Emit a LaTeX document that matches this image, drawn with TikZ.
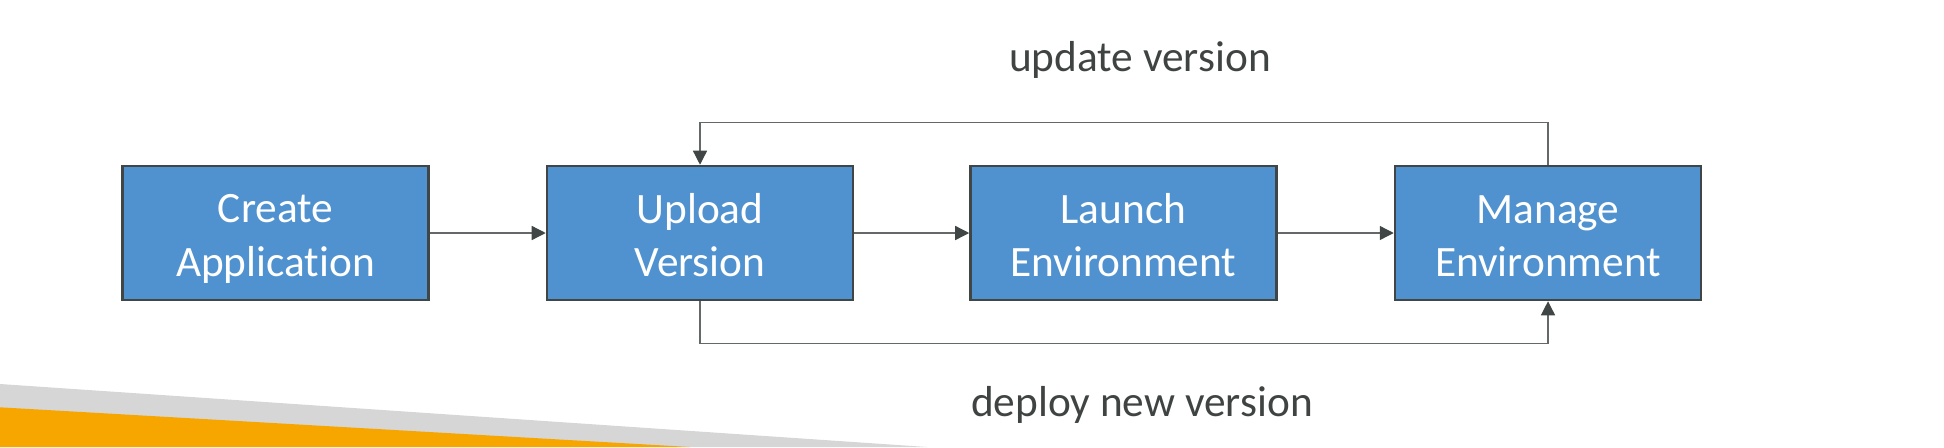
\documentclass[tikz,border=0pt]{standalone}
\usepackage{fontspec}
\setmainfont{Carlito}[Ligatures=NoCommon]
\usetikzlibrary{arrows.meta}
\definecolor{boxblue}{RGB}{80,146,207}
\definecolor{boxedge}{RGB}{64,70,69}
\definecolor{linegray}{RGB}{100,104,104}
\definecolor{labelgray}{RGB}{63,68,67}
\definecolor{bandgray}{RGB}{214,214,214}
\definecolor{bandorange}{RGB}{247,166,0}
\newcommand{\bstrut}{\rule[-5pt]{0pt}{35pt}}
\tikzset{
  stepbox/.style={draw=boxedge, line width=1.9pt, fill=boxblue, text=white,
    minimum width=229.5pt, minimum height=100.5pt, inner sep=0pt, align=center,
    font=\fontsize{32.5}{40}\selectfont},
  flow/.style={draw=linegray, line width=1pt,
    -{Triangle[length=10.5pt,width=10.5pt,color=boxedge]}},
  looplabel/.style={text=labelgray, anchor=base, inner sep=0pt,
    font=\fontsize{32.5}{40}\selectfont}
}
\begin{document}
\begin{tikzpicture}[x=0.75pt,y=-0.75pt]
\useasboundingbox (0,0) rectangle (1944,447);
% decoration
\fill[bandgray] (0,384) -- (927,447) -- (0,447) -- cycle;
\fill[bandorange] (0,407.3) -- (690,447) -- (0,447) -- cycle;
% boxes
\node[stepbox] (c) at (275.5,233) {\bstrut Create\\\bstrut Application};
\node[stepbox] (u) at (700,233) {\bstrut Upload\\\bstrut Version};
\node[stepbox] (l) at (1123.5,233) {\bstrut Launch\\\bstrut Environment};
\node[stepbox] (m) at (1548,233) {\bstrut Manage\\\bstrut Environment};
% straight arrows
\draw[flow] (c) -- (u);
\draw[flow] (u) -- (l);
\draw[flow] (l) -- (m);
% loops
\coordinate (top) at (0,122.7);
\coordinate (bot) at (0,343.3);
\draw[flow] (m.north) -- (m.north |- top) -- (u.north |- top) -- (u.north);
\draw[flow] (u.south) -- (u.south |- bot) -- (m.south |- bot) -- (m.south);
% labels
\node[looplabel] (ul) at (1140,71.7) {update version};
\node[looplabel] (dl) at (1142,416.7) {deploy new version};
\end{tikzpicture}
\end{document}
